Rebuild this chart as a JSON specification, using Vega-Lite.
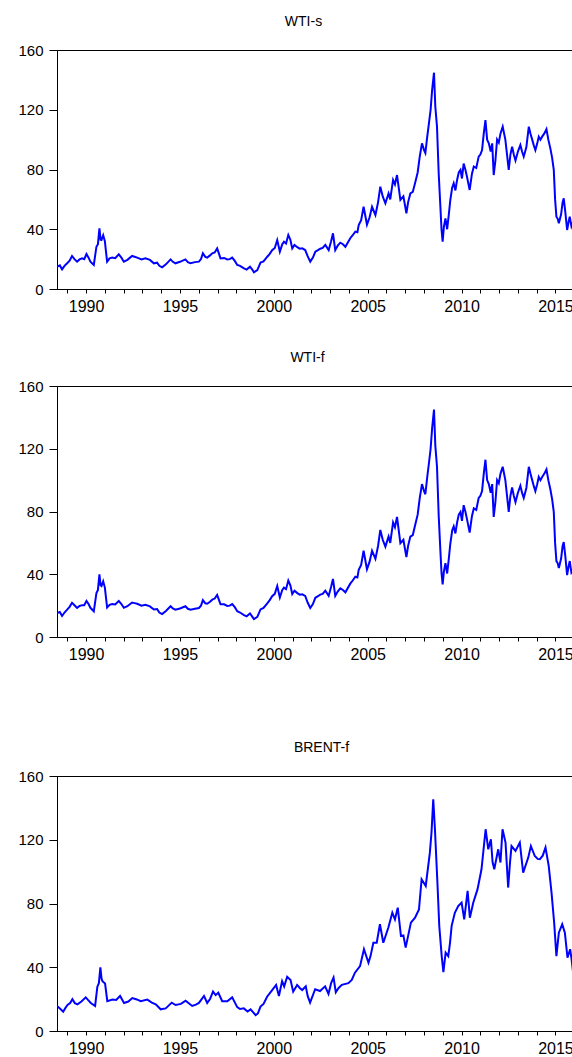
{
  "$schema": "https://vega.github.io/schema/vega-lite/v6.json",
  "padding": {"left": 17, "top": 14, "right": 0, "bottom": 0},
  "background": "white",
  "config": {
    "view": {"stroke": "black", "strokeWidth": 1},
    "font": "Liberation Sans",
    "title": {"fontSize": 14, "fontWeight": "normal", "color": "black", "offset": 14, "font": "Liberation Sans"},
    "axis": {"domainColor": "black", "tickColor": "black", "labelColor": "black", "grid": false, "title": null, "labelFont": "Liberation Sans"}
  },
  "datasets": {
    "wtis": [
      {"year": 1988.45, "price": 14.9}, {"year": 1988.6, "price": 15.8}, {"year": 1988.72, "price": 13.2}, {"year": 1988.85, "price": 15.5}, {"year": 1988.99, "price": 17.2}, {"year": 1989.12, "price": 19}, {"year": 1989.25, "price": 22.1},
      {"year": 1989.38, "price": 20}, {"year": 1989.52, "price": 18.3}, {"year": 1989.65, "price": 19.8}, {"year": 1989.79, "price": 20.5}, {"year": 1989.9, "price": 20}, {"year": 1990.02, "price": 23.4}, {"year": 1990.13, "price": 21}, {"year": 1990.23, "price": 18.3},
      {"year": 1990.41, "price": 16.1}, {"year": 1990.55, "price": 28.3}, {"year": 1990.63, "price": 30}, {"year": 1990.71, "price": 40.6}, {"year": 1990.77, "price": 33}, {"year": 1990.82, "price": 32.8},
      {"year": 1990.91, "price": 36}, {"year": 1991.0, "price": 32}, {"year": 1991.05, "price": 26}, {"year": 1991.12, "price": 18.3}, {"year": 1991.25, "price": 20.5}, {"year": 1991.39, "price": 21}, {"year": 1991.55, "price": 20.6},
      {"year": 1991.74, "price": 23.2}, {"year": 1991.88, "price": 21}, {"year": 1992.01, "price": 18.3}, {"year": 1992.2, "price": 19.5}, {"year": 1992.45, "price": 22.1}, {"year": 1992.58, "price": 21.6}, {"year": 1992.72, "price": 21}, {"year": 1992.95, "price": 19.8},
      {"year": 1993.16, "price": 20.5}, {"year": 1993.4, "price": 19.5}, {"year": 1993.61, "price": 17.2}, {"year": 1993.78, "price": 17.6}, {"year": 1993.9, "price": 15.5}, {"year": 1994.05, "price": 14.5}, {"year": 1994.25, "price": 16.5},
      {"year": 1994.5, "price": 19.8}, {"year": 1994.62, "price": 18.2}, {"year": 1994.76, "price": 17.2}, {"year": 1995.0, "price": 18.2}, {"year": 1995.29, "price": 19.8}, {"year": 1995.42, "price": 18}, {"year": 1995.56, "price": 17.2}, {"year": 1995.8, "price": 18},
      {"year": 1996.01, "price": 18.3}, {"year": 1996.12, "price": 20}, {"year": 1996.22, "price": 23.9}, {"year": 1996.35, "price": 21.5}, {"year": 1996.45, "price": 21}, {"year": 1996.6, "price": 22.5}, {"year": 1996.72, "price": 23.9}, {"year": 1996.85, "price": 24.5},
      {"year": 1996.98, "price": 27.2}, {"year": 1997.08, "price": 23.5}, {"year": 1997.16, "price": 20.5}, {"year": 1997.35, "price": 20.8}, {"year": 1997.52, "price": 19.8}, {"year": 1997.65, "price": 20}, {"year": 1997.78, "price": 21}, {"year": 1997.92, "price": 18.8},
      {"year": 1998.05, "price": 16.1}, {"year": 1998.2, "price": 15.5}, {"year": 1998.41, "price": 13.8}, {"year": 1998.55, "price": 13}, {"year": 1998.73, "price": 14.9}, {"year": 1998.85, "price": 13}, {"year": 1998.94, "price": 11.2},
      {"year": 1999.12, "price": 12.7}, {"year": 1999.29, "price": 17.7}, {"year": 1999.45, "price": 18.5}, {"year": 1999.65, "price": 21.6}, {"year": 1999.78, "price": 23.5}, {"year": 1999.91, "price": 26}, {"year": 2000.05, "price": 27.5},
      {"year": 2000.18, "price": 32.8}, {"year": 2000.32, "price": 25}, {"year": 2000.45, "price": 30}, {"year": 2000.54, "price": 31.7}, {"year": 2000.65, "price": 30.5}, {"year": 2000.77, "price": 36.2}, {"year": 2000.88, "price": 33},
      {"year": 2000.98, "price": 27.2}, {"year": 2001.1, "price": 29.5}, {"year": 2001.25, "price": 28}, {"year": 2001.38, "price": 27}, {"year": 2001.51, "price": 27.2}, {"year": 2001.67, "price": 26.1}, {"year": 2001.8, "price": 22},
      {"year": 2001.94, "price": 18.3}, {"year": 2002.08, "price": 21}, {"year": 2002.21, "price": 25}, {"year": 2002.35, "price": 26}, {"year": 2002.47, "price": 27}, {"year": 2002.6, "price": 27.5}, {"year": 2002.74, "price": 29.5},
      {"year": 2002.92, "price": 26}, {"year": 2003.05, "price": 32}, {"year": 2003.15, "price": 37.3}, {"year": 2003.27, "price": 26}, {"year": 2003.4, "price": 29}, {"year": 2003.54, "price": 31}, {"year": 2003.68, "price": 30},
      {"year": 2003.81, "price": 28.3}, {"year": 2004.07, "price": 34}, {"year": 2004.2, "price": 36}, {"year": 2004.34, "price": 38.4}, {"year": 2004.45, "price": 38}, {"year": 2004.52, "price": 42.8}, {"year": 2004.65, "price": 46},
      {"year": 2004.78, "price": 55.1}, {"year": 2004.96, "price": 43}, {"year": 2005.1, "price": 48}, {"year": 2005.23, "price": 55}, {"year": 2005.41, "price": 49.5}, {"year": 2005.55, "price": 58},
      {"year": 2005.67, "price": 68.5}, {"year": 2005.8, "price": 62}, {"year": 2005.94, "price": 57.4}, {"year": 2006.11, "price": 64}, {"year": 2006.2, "price": 60}, {"year": 2006.35, "price": 73}, {"year": 2006.45, "price": 70},
      {"year": 2006.56, "price": 76.3}, {"year": 2006.74, "price": 59.6}, {"year": 2006.9, "price": 62}, {"year": 2007.06, "price": 50.7}, {"year": 2007.15, "price": 58}, {"year": 2007.27, "price": 64}, {"year": 2007.4, "price": 65},
      {"year": 2007.54, "price": 71.8}, {"year": 2007.66, "price": 78}, {"year": 2007.77, "price": 88.6}, {"year": 2007.89, "price": 97.5}, {"year": 2008.0, "price": 93}, {"year": 2008.07, "price": 91}, {"year": 2008.17, "price": 102},
      {"year": 2008.25, "price": 109.8}, {"year": 2008.35, "price": 120}, {"year": 2008.43, "price": 133.2}, {"year": 2008.53, "price": 144.8}, {"year": 2008.6, "price": 122},
      {"year": 2008.69, "price": 108.7}, {"year": 2008.78, "price": 77.5}, {"year": 2008.87, "price": 55.1}, {"year": 2008.93, "price": 40}, {"year": 2008.99, "price": 31.7}, {"year": 2009.06, "price": 42},
      {"year": 2009.14, "price": 47.3}, {"year": 2009.23, "price": 40}, {"year": 2009.32, "price": 50}, {"year": 2009.4, "price": 59.6}, {"year": 2009.5, "price": 68}, {"year": 2009.58, "price": 70.8}, {"year": 2009.67, "price": 66},
      {"year": 2009.76, "price": 73}, {"year": 2009.85, "price": 78}, {"year": 2009.94, "price": 79.7}, {"year": 2010.02, "price": 74}, {"year": 2010.11, "price": 84}, {"year": 2010.2, "price": 80}, {"year": 2010.29, "price": 75},
      {"year": 2010.43, "price": 66.3}, {"year": 2010.55, "price": 77}, {"year": 2010.65, "price": 82}, {"year": 2010.78, "price": 81}, {"year": 2010.91, "price": 88.6}, {"year": 2011.0, "price": 90}, {"year": 2011.09, "price": 93},
      {"year": 2011.18, "price": 104}, {"year": 2011.27, "price": 113.1}, {"year": 2011.36, "price": 100}, {"year": 2011.45, "price": 97.5}, {"year": 2011.55, "price": 92}, {"year": 2011.63, "price": 97.5}, {"year": 2011.71, "price": 76.3},
      {"year": 2011.8, "price": 86}, {"year": 2011.89, "price": 100}, {"year": 2011.98, "price": 98}, {"year": 2012.07, "price": 104}, {"year": 2012.19, "price": 108.7}, {"year": 2012.33, "price": 100}, {"year": 2012.42, "price": 90},
      {"year": 2012.51, "price": 79.7}, {"year": 2012.6, "price": 90}, {"year": 2012.69, "price": 95.3}, {"year": 2012.78, "price": 90}, {"year": 2012.87, "price": 86}, {"year": 2013.0, "price": 92}, {"year": 2013.13, "price": 96.4},
      {"year": 2013.22, "price": 92}, {"year": 2013.31, "price": 88.6}, {"year": 2013.45, "price": 95}, {"year": 2013.58, "price": 108.7}, {"year": 2013.67, "price": 104}, {"year": 2013.76, "price": 100}, {"year": 2013.85, "price": 96}, {"year": 2013.93, "price": 93},
      {"year": 2014.02, "price": 97}, {"year": 2014.11, "price": 102}, {"year": 2014.2, "price": 100}, {"year": 2014.29, "price": 102}, {"year": 2014.4, "price": 104}, {"year": 2014.52, "price": 107}, {"year": 2014.62, "price": 100}, {"year": 2014.73, "price": 94},
      {"year": 2014.82, "price": 88}, {"year": 2014.91, "price": 79.7}, {"year": 2014.98, "price": 60}, {"year": 2015.05, "price": 48.4}, {"year": 2015.12, "price": 47}, {"year": 2015.18, "price": 44}, {"year": 2015.3, "price": 50}, {"year": 2015.38, "price": 58}, {"year": 2015.44, "price": 60.7},
      {"year": 2015.52, "price": 52}, {"year": 2015.62, "price": 39.5}, {"year": 2015.7, "price": 45}, {"year": 2015.76, "price": 48.4}, {"year": 2015.85, "price": 42}, {"year": 2015.91, "price": 44}, {"year": 2016.0, "price": 37},
      {"year": 2016.1, "price": 30}, {"year": 2016.2, "price": 33}
    ],
    "wtif": [
      {"year": 1988.45, "price": 15.2}, {"year": 1988.6, "price": 15.9}, {"year": 1988.72, "price": 13.4}, {"year": 1988.85, "price": 15.6}, {"year": 1988.99, "price": 17.4}, {"year": 1989.12, "price": 19.2}, {"year": 1989.25, "price": 21.8},
      {"year": 1989.38, "price": 20.2}, {"year": 1989.52, "price": 18.5}, {"year": 1989.65, "price": 19.8}, {"year": 1989.79, "price": 20.3}, {"year": 1989.9, "price": 20.2}, {"year": 1990.02, "price": 23}, {"year": 1990.13, "price": 21}, {"year": 1990.23, "price": 18.6},
      {"year": 1990.41, "price": 16.4}, {"year": 1990.55, "price": 28}, {"year": 1990.63, "price": 30}, {"year": 1990.71, "price": 40}, {"year": 1990.77, "price": 33}, {"year": 1990.82, "price": 32.5},
      {"year": 1990.91, "price": 35.5}, {"year": 1991.0, "price": 31.5}, {"year": 1991.05, "price": 26}, {"year": 1991.12, "price": 18.8}, {"year": 1991.25, "price": 20.5}, {"year": 1991.39, "price": 21}, {"year": 1991.55, "price": 20.8},
      {"year": 1991.74, "price": 23}, {"year": 1991.88, "price": 21}, {"year": 1992.01, "price": 18.6}, {"year": 1992.2, "price": 19.6}, {"year": 1992.45, "price": 22}, {"year": 1992.58, "price": 21.6}, {"year": 1992.72, "price": 21.2}, {"year": 1992.95, "price": 20},
      {"year": 1993.16, "price": 20.5}, {"year": 1993.4, "price": 19.5}, {"year": 1993.61, "price": 17.5}, {"year": 1993.78, "price": 17.8}, {"year": 1993.9, "price": 15.6}, {"year": 1994.05, "price": 14.6}, {"year": 1994.25, "price": 16.6},
      {"year": 1994.5, "price": 19.6}, {"year": 1994.62, "price": 18.2}, {"year": 1994.76, "price": 17.4}, {"year": 1995.0, "price": 18.2}, {"year": 1995.29, "price": 19.6}, {"year": 1995.42, "price": 18}, {"year": 1995.56, "price": 17.4}, {"year": 1995.8, "price": 18},
      {"year": 1996.01, "price": 18.5}, {"year": 1996.12, "price": 20}, {"year": 1996.22, "price": 23.5}, {"year": 1996.35, "price": 21.5}, {"year": 1996.45, "price": 21.2}, {"year": 1996.6, "price": 22.5}, {"year": 1996.72, "price": 23.8}, {"year": 1996.85, "price": 24.5},
      {"year": 1996.98, "price": 26.8}, {"year": 1997.08, "price": 23.5}, {"year": 1997.16, "price": 20.8}, {"year": 1997.35, "price": 20.8}, {"year": 1997.52, "price": 19.8}, {"year": 1997.65, "price": 20}, {"year": 1997.78, "price": 21}, {"year": 1997.92, "price": 19},
      {"year": 1998.05, "price": 16.4}, {"year": 1998.2, "price": 15.6}, {"year": 1998.41, "price": 14}, {"year": 1998.55, "price": 13.2}, {"year": 1998.73, "price": 15}, {"year": 1998.85, "price": 13}, {"year": 1998.94, "price": 11.4},
      {"year": 1999.12, "price": 12.8}, {"year": 1999.29, "price": 17.6}, {"year": 1999.45, "price": 18.5}, {"year": 1999.65, "price": 21.5}, {"year": 1999.78, "price": 23.5}, {"year": 1999.91, "price": 26}, {"year": 2000.05, "price": 27.5},
      {"year": 2000.18, "price": 32.5}, {"year": 2000.32, "price": 25.2}, {"year": 2000.45, "price": 30}, {"year": 2000.54, "price": 31.5}, {"year": 2000.65, "price": 30.5}, {"year": 2000.77, "price": 36}, {"year": 2000.88, "price": 33},
      {"year": 2000.98, "price": 27.4}, {"year": 2001.1, "price": 29.5}, {"year": 2001.25, "price": 28}, {"year": 2001.38, "price": 27}, {"year": 2001.51, "price": 27.2}, {"year": 2001.67, "price": 26.2}, {"year": 2001.8, "price": 22},
      {"year": 2001.94, "price": 18.5}, {"year": 2002.08, "price": 21}, {"year": 2002.21, "price": 25}, {"year": 2002.35, "price": 26}, {"year": 2002.47, "price": 27}, {"year": 2002.6, "price": 27.5}, {"year": 2002.74, "price": 29.5},
      {"year": 2002.92, "price": 26.2}, {"year": 2003.05, "price": 32}, {"year": 2003.15, "price": 37}, {"year": 2003.27, "price": 26.2}, {"year": 2003.4, "price": 29}, {"year": 2003.54, "price": 31}, {"year": 2003.68, "price": 30},
      {"year": 2003.81, "price": 28.5}, {"year": 2004.07, "price": 34}, {"year": 2004.2, "price": 36}, {"year": 2004.34, "price": 38.4}, {"year": 2004.45, "price": 38}, {"year": 2004.52, "price": 42.8}, {"year": 2004.65, "price": 46},
      {"year": 2004.78, "price": 55}, {"year": 2004.96, "price": 43.2}, {"year": 2005.1, "price": 48}, {"year": 2005.23, "price": 55}, {"year": 2005.41, "price": 49.8}, {"year": 2005.55, "price": 58},
      {"year": 2005.67, "price": 68.2}, {"year": 2005.8, "price": 62}, {"year": 2005.94, "price": 57.6}, {"year": 2006.11, "price": 64}, {"year": 2006.2, "price": 60}, {"year": 2006.35, "price": 73}, {"year": 2006.45, "price": 70},
      {"year": 2006.56, "price": 76.5}, {"year": 2006.74, "price": 59.8}, {"year": 2006.9, "price": 62}, {"year": 2007.06, "price": 51}, {"year": 2007.15, "price": 58}, {"year": 2007.27, "price": 64}, {"year": 2007.4, "price": 65},
      {"year": 2007.54, "price": 72}, {"year": 2007.66, "price": 78}, {"year": 2007.77, "price": 88.5}, {"year": 2007.89, "price": 97.5}, {"year": 2008.0, "price": 93}, {"year": 2008.07, "price": 91}, {"year": 2008.17, "price": 102},
      {"year": 2008.25, "price": 109.8}, {"year": 2008.35, "price": 120}, {"year": 2008.43, "price": 133}, {"year": 2008.53, "price": 145}, {"year": 2008.6, "price": 122},
      {"year": 2008.69, "price": 108.5}, {"year": 2008.78, "price": 77.5}, {"year": 2008.87, "price": 55}, {"year": 2008.93, "price": 41}, {"year": 2008.99, "price": 33.5}, {"year": 2009.06, "price": 42},
      {"year": 2009.14, "price": 47}, {"year": 2009.23, "price": 40.5}, {"year": 2009.32, "price": 50}, {"year": 2009.4, "price": 59.6}, {"year": 2009.5, "price": 68}, {"year": 2009.58, "price": 70.5}, {"year": 2009.67, "price": 66},
      {"year": 2009.76, "price": 73}, {"year": 2009.85, "price": 78}, {"year": 2009.94, "price": 79.7}, {"year": 2010.02, "price": 74}, {"year": 2010.11, "price": 84}, {"year": 2010.2, "price": 80}, {"year": 2010.29, "price": 75},
      {"year": 2010.43, "price": 66.5}, {"year": 2010.55, "price": 77}, {"year": 2010.65, "price": 82}, {"year": 2010.78, "price": 81}, {"year": 2010.91, "price": 88.6}, {"year": 2011.0, "price": 90}, {"year": 2011.09, "price": 93},
      {"year": 2011.18, "price": 104}, {"year": 2011.27, "price": 113}, {"year": 2011.36, "price": 100}, {"year": 2011.45, "price": 97.5}, {"year": 2011.55, "price": 92}, {"year": 2011.63, "price": 97.5}, {"year": 2011.71, "price": 76.5},
      {"year": 2011.8, "price": 86}, {"year": 2011.89, "price": 100}, {"year": 2011.98, "price": 98}, {"year": 2012.07, "price": 104}, {"year": 2012.19, "price": 108.5}, {"year": 2012.33, "price": 100}, {"year": 2012.42, "price": 90},
      {"year": 2012.51, "price": 79.8}, {"year": 2012.6, "price": 90}, {"year": 2012.69, "price": 95.3}, {"year": 2012.78, "price": 90}, {"year": 2012.87, "price": 86}, {"year": 2013.0, "price": 92}, {"year": 2013.13, "price": 96.4},
      {"year": 2013.22, "price": 92}, {"year": 2013.31, "price": 88.6}, {"year": 2013.45, "price": 95}, {"year": 2013.58, "price": 108.5}, {"year": 2013.67, "price": 104}, {"year": 2013.76, "price": 100}, {"year": 2013.85, "price": 96}, {"year": 2013.93, "price": 93},
      {"year": 2014.02, "price": 97}, {"year": 2014.11, "price": 102}, {"year": 2014.2, "price": 100}, {"year": 2014.29, "price": 102}, {"year": 2014.4, "price": 104}, {"year": 2014.52, "price": 106.8}, {"year": 2014.62, "price": 100}, {"year": 2014.73, "price": 94},
      {"year": 2014.82, "price": 88}, {"year": 2014.91, "price": 79.7}, {"year": 2014.98, "price": 60}, {"year": 2015.05, "price": 48.4}, {"year": 2015.12, "price": 47}, {"year": 2015.18, "price": 44}, {"year": 2015.3, "price": 50}, {"year": 2015.38, "price": 58}, {"year": 2015.44, "price": 60.5},
      {"year": 2015.52, "price": 52}, {"year": 2015.62, "price": 39.5}, {"year": 2015.7, "price": 45}, {"year": 2015.76, "price": 48.4}, {"year": 2015.85, "price": 41}, {"year": 2015.91, "price": 42}, {"year": 2016.0, "price": 37},
      {"year": 2016.1, "price": 30}, {"year": 2016.2, "price": 33}
    ],
    "brentf": [
      {"year": 1988.45, "price": 15.7}, {"year": 1988.62, "price": 14}, {"year": 1988.78, "price": 12.1}, {"year": 1988.9, "price": 14.5}, {"year": 1989.01, "price": 16.3}, {"year": 1989.15, "price": 17.5}, {"year": 1989.27, "price": 19.9},
      {"year": 1989.4, "price": 17.5}, {"year": 1989.54, "price": 16.7}, {"year": 1989.75, "price": 18.5}, {"year": 1989.98, "price": 21.1}, {"year": 1990.1, "price": 19.5}, {"year": 1990.25, "price": 17.6}, {"year": 1990.48, "price": 15.7},
      {"year": 1990.6, "price": 27.8}, {"year": 1990.68, "price": 30}, {"year": 1990.76, "price": 40}, {"year": 1990.82, "price": 33}, {"year": 1990.87, "price": 31.3}, {"year": 1991.01, "price": 29.8},
      {"year": 1991.13, "price": 18.7}, {"year": 1991.4, "price": 19.7}, {"year": 1991.6, "price": 19.5}, {"year": 1991.81, "price": 22}, {"year": 1992.02, "price": 17.6}, {"year": 1992.25, "price": 18.5},
      {"year": 1992.46, "price": 20.7}, {"year": 1992.7, "price": 19.8}, {"year": 1992.91, "price": 18.7}, {"year": 1993.26, "price": 19.7}, {"year": 1993.5, "price": 17.8}, {"year": 1993.71, "price": 16.7},
      {"year": 1993.97, "price": 13.6}, {"year": 1994.24, "price": 14.2}, {"year": 1994.56, "price": 17.8}, {"year": 1994.77, "price": 16.3}, {"year": 1995.05, "price": 17},
      {"year": 1995.3, "price": 19}, {"year": 1995.65, "price": 15.7}, {"year": 1995.85, "price": 16.5}, {"year": 1996.01, "price": 17.6}, {"year": 1996.28, "price": 22},
      {"year": 1996.45, "price": 17.6}, {"year": 1996.6, "price": 20}, {"year": 1996.76, "price": 24.7}, {"year": 1996.9, "price": 22.5}, {"year": 1997.04, "price": 24}, {"year": 1997.25, "price": 18.7},
      {"year": 1997.52, "price": 18.7}, {"year": 1997.78, "price": 21.1}, {"year": 1998.05, "price": 15}, {"year": 1998.2, "price": 13.8}, {"year": 1998.4, "price": 14.2},
      {"year": 1998.6, "price": 12.2}, {"year": 1998.76, "price": 13.6}, {"year": 1999.03, "price": 10}, {"year": 1999.15, "price": 11}, {"year": 1999.29, "price": 15.3}, {"year": 1999.45, "price": 17}, {"year": 1999.64, "price": 21.5},
      {"year": 1999.91, "price": 25.7}, {"year": 2000.12, "price": 28.9}, {"year": 2000.27, "price": 22}, {"year": 2000.44, "price": 31.3}, {"year": 2000.55, "price": 28},
      {"year": 2000.71, "price": 34}, {"year": 2000.89, "price": 32}, {"year": 2001.03, "price": 24.7}, {"year": 2001.24, "price": 28.9}, {"year": 2001.38, "price": 27},
      {"year": 2001.51, "price": 25.7}, {"year": 2001.7, "price": 28}, {"year": 2001.8, "price": 22}, {"year": 2001.93, "price": 17.8}, {"year": 2002.2, "price": 26.2},
      {"year": 2002.46, "price": 25.1}, {"year": 2002.73, "price": 28}, {"year": 2002.91, "price": 23.3}, {"year": 2003.05, "price": 30}, {"year": 2003.18, "price": 33.5},
      {"year": 2003.3, "price": 24.3}, {"year": 2003.45, "price": 27}, {"year": 2003.62, "price": 29}, {"year": 2003.97, "price": 30}, {"year": 2004.15, "price": 32}, {"year": 2004.32, "price": 36.6},
      {"year": 2004.59, "price": 40.7}, {"year": 2004.8, "price": 51.3}, {"year": 2005.04, "price": 42.8}, {"year": 2005.15, "price": 47}, {"year": 2005.3, "price": 55.4},
      {"year": 2005.48, "price": 55.4}, {"year": 2005.65, "price": 67}, {"year": 2005.83, "price": 55.4}, {"year": 2006.1, "price": 64.9},
      {"year": 2006.31, "price": 74.2}, {"year": 2006.45, "price": 70}, {"year": 2006.6, "price": 77.4}, {"year": 2006.77, "price": 59.6}, {"year": 2006.9, "price": 60}, {"year": 2007.02, "price": 52.3},
      {"year": 2007.3, "price": 68}, {"year": 2007.52, "price": 71.1}, {"year": 2007.73, "price": 76.3}, {"year": 2007.87, "price": 95.2},
      {"year": 2008.09, "price": 91}, {"year": 2008.31, "price": 111.9}, {"year": 2008.4, "price": 125}, {"year": 2008.49, "price": 145.4}, {"year": 2008.58, "price": 126.6},
      {"year": 2008.72, "price": 91}, {"year": 2008.81, "price": 66}, {"year": 2008.94, "price": 47}, {"year": 2009.03, "price": 37},
      {"year": 2009.15, "price": 49.2}, {"year": 2009.29, "price": 47}, {"year": 2009.38, "price": 55}, {"year": 2009.47, "price": 66}, {"year": 2009.64, "price": 74.2},
      {"year": 2009.82, "price": 78.4}, {"year": 2010.0, "price": 80.5}, {"year": 2010.14, "price": 70}, {"year": 2010.32, "price": 87.9},
      {"year": 2010.44, "price": 71.1}, {"year": 2010.62, "price": 80.5}, {"year": 2010.85, "price": 89}, {"year": 2011.06, "price": 101.5},
      {"year": 2011.28, "price": 126.6}, {"year": 2011.42, "price": 114}, {"year": 2011.56, "price": 120.3}, {"year": 2011.65, "price": 106}, {"year": 2011.74, "price": 101.5},
      {"year": 2011.95, "price": 114}, {"year": 2012.07, "price": 105.7}, {"year": 2012.18, "price": 126.6}, {"year": 2012.34, "price": 118.2},
      {"year": 2012.48, "price": 90}, {"year": 2012.58, "price": 106}, {"year": 2012.66, "price": 116}, {"year": 2012.87, "price": 113}, {"year": 2013.1, "price": 118.2},
      {"year": 2013.28, "price": 99.4}, {"year": 2013.55, "price": 108.8}, {"year": 2013.69, "price": 116}, {"year": 2013.9, "price": 109.8},
      {"year": 2014.05, "price": 108}, {"year": 2014.17, "price": 107.8}, {"year": 2014.32, "price": 110}, {"year": 2014.47, "price": 115.1}, {"year": 2014.64, "price": 103.6}, {"year": 2014.79, "price": 86.8},
      {"year": 2014.93, "price": 68}, {"year": 2015.05, "price": 47}, {"year": 2015.18, "price": 61.7}, {"year": 2015.36, "price": 67},
      {"year": 2015.5, "price": 61.7}, {"year": 2015.64, "price": 46}, {"year": 2015.78, "price": 51.3}, {"year": 2015.86, "price": 45}, {"year": 2015.94, "price": 36.6},
      {"year": 2016.05, "price": 33}, {"year": 2016.15, "price": 30}
    ]
  },
  "spacing": 77,
  "vconcat": [
    {
      "spacing": 35,
      "vconcat": [
        {
          "data": {"name": "wtis"},
          "title": {"text": "WTI-s", "dx": -14},
          "width": 521, "height": 239,
          "mark": {"type": "line", "color": "#0000ff", "strokeWidth": 2, "clip": true},
          "encoding": {
            "x": {"field": "year", "type": "quantitative",
              "scale": {"domain": [1988.45, 2016.2], "nice": false, "zero": false},
              "axis": {"values": [1989,1990,1991,1992,1993,1994,1995,1996,1997,1998,1999,2000,2001,2002,2003,2004,2005,2006,2007,2008,2009,2010,2011,2012,2013,2014,2015,2016],
                "labelExpr": "datum.value % 5 === 0 ? format(datum.value, 'd') : ''", "tickSize": 4, "labelFontSize": 16, "labelPadding": 5, "labelFlush": false, "labelOverlap": false}},
            "y": {"field": "price", "type": "quantitative",
              "scale": {"domain": [0, 160], "nice": false},
              "axis": {"values": [0, 40, 80, 120, 160], "tickSize": 8, "labelFontSize": 15, "labelPadding": 6}}
          }
        },
        {
          "data": {"name": "wtif"},
          "title": {"text": "WTI-f", "dx": -10},
          "width": 521, "height": 251,
          "mark": {"type": "line", "color": "#0000ff", "strokeWidth": 2, "clip": true},
          "encoding": {
            "x": {"field": "year", "type": "quantitative",
              "scale": {"domain": [1988.45, 2016.2], "nice": false, "zero": false},
              "axis": {"values": [1989,1990,1991,1992,1993,1994,1995,1996,1997,1998,1999,2000,2001,2002,2003,2004,2005,2006,2007,2008,2009,2010,2011,2012,2013,2014,2015,2016],
                "labelExpr": "datum.value % 5 === 0 ? format(datum.value, 'd') : ''", "tickSize": 4, "labelFontSize": 16, "labelPadding": 5, "labelFlush": false, "labelOverlap": false}},
            "y": {"field": "price", "type": "quantitative",
              "scale": {"domain": [0, 160], "nice": false},
              "axis": {"values": [0, 40, 80, 120, 160], "tickSize": 8, "labelFontSize": 15, "labelPadding": 6}}
          }
        }
      ]
    },
    {
      "data": {"name": "brentf"},
      "title": {"text": "BRENT-f", "dx": 4},
      "width": 521, "height": 255,
      "mark": {"type": "line", "color": "#0000ff", "strokeWidth": 2, "clip": true},
      "encoding": {
        "x": {"field": "year", "type": "quantitative",
          "scale": {"domain": [1988.45, 2016.2], "nice": false, "zero": false},
          "axis": {"values": [1989,1990,1991,1992,1993,1994,1995,1996,1997,1998,1999,2000,2001,2002,2003,2004,2005,2006,2007,2008,2009,2010,2011,2012,2013,2014,2015,2016],
            "labelExpr": "datum.value % 5 === 0 ? format(datum.value, 'd') : ''", "tickSize": 4, "labelFontSize": 16, "labelPadding": 5, "labelFlush": false, "labelOverlap": false}},
        "y": {"field": "price", "type": "quantitative",
          "scale": {"domain": [0, 160], "nice": false},
          "axis": {"values": [0, 40, 80, 120, 160], "tickSize": 8, "labelFontSize": 15, "labelPadding": 6}}
      }
    }
  ]
}
